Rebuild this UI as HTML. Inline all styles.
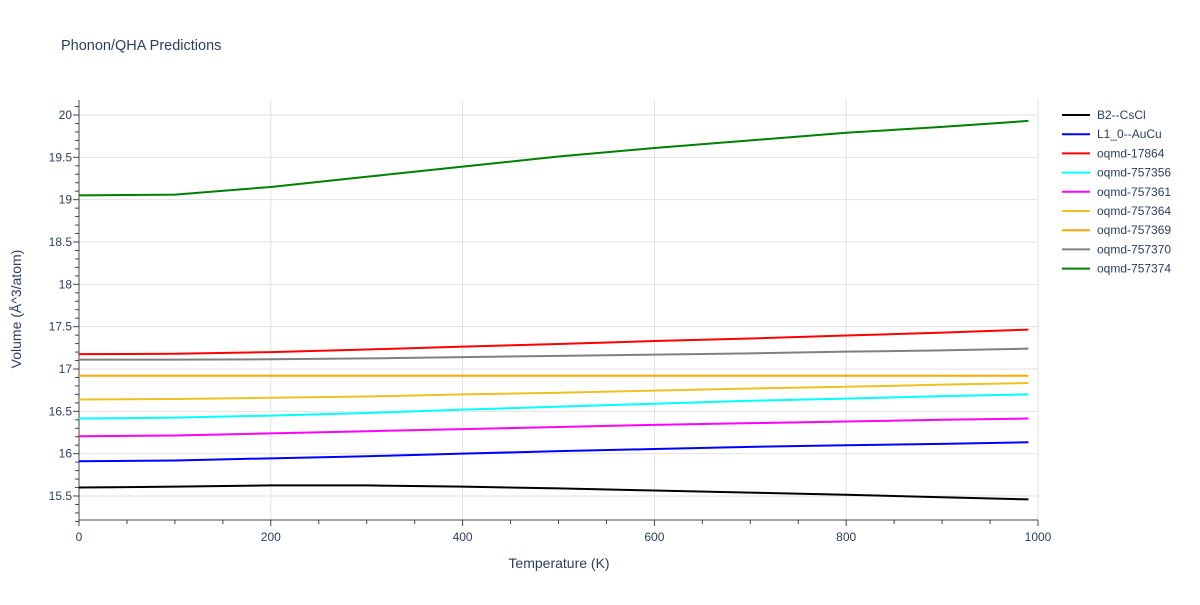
<!DOCTYPE html>
<html><head><meta charset="utf-8"><style>body{margin:0;background:#fff}svg text{font-family:"Liberation Sans",sans-serif;fill:#2a3f5f}</style></head>
<body>
<svg id="c" width="1200" height="600">
<text x="61" y="50" font-size="14.5">Phonon/QHA Predictions</text>
<g id="grid"></g><g id="axes"></g><g id="plot"></g><g id="legend"></g>
<text x="559" y="568" font-size="14" text-anchor="middle">Temperature (K)</text>
<text transform="translate(21,309) rotate(-90)" font-size="14" text-anchor="middle">Volume (Å^3/atom)</text>
</svg>
<script>
const temps=[0,100,200,300,400,500,600,700,800,900,990];
const seriesNames=["B2--CsCl","L1_0--AuCu","oqmd-17864","oqmd-757356","oqmd-757361","oqmd-757364","oqmd-757369","oqmd-757370","oqmd-757374"];
const colors=["#000000","#0000ff","#ff0000","#00ffff","#ff00ff","#f0c020","#ffa500","#808080","#008000"];
const vB2=[15.60,15.61,15.625,15.625,15.61,15.59,15.565,15.54,15.515,15.485,15.46];
const vL10=[15.91,15.92,15.945,15.97,16.0,16.03,16.055,16.08,16.10,16.115,16.135];
const v17864=[17.175,17.18,17.2,17.23,17.265,17.295,17.33,17.36,17.395,17.43,17.465];
const v757356=[16.415,16.425,16.45,16.48,16.52,16.555,16.59,16.625,16.65,16.68,16.70];
const v757361=[16.205,16.215,16.24,16.265,16.29,16.315,16.34,16.36,16.38,16.40,16.415];
const v757364=[16.64,16.645,16.66,16.675,16.70,16.72,16.745,16.77,16.79,16.815,16.835];
const v757369=[16.92,16.92,16.92,16.92,16.92,16.92,16.92,16.92,16.92,16.92,16.92];
const v757370=[17.11,17.11,17.115,17.125,17.14,17.155,17.17,17.185,17.205,17.22,17.24];
const v757374=[19.05,19.06,19.15,19.27,19.39,19.51,19.61,19.70,19.79,19.86,19.93];
const allSeries=[vB2,vL10,v17864,v757356,v757361,v757364,v757369,v757370,v757374];
const xTicks=[0,200,400,600,800,1000];
const yTicks=[15.5,16,16.5,17,17.5,18,18.5,19,19.5,20];
const NS="http://www.w3.org/2000/svg";
const X0=79,X1=1038,Y20=115,Y155=496;
const sx=v=>X0+(X1-X0)*v/1000;
const sy=v=>Y155-(v-15.5)*(Y155-Y20)/4.5;
function mk(p,t,a){const e=document.createElementNS(NS,t);for(const k in a)e.setAttribute(k,a[k]);document.getElementById(p).appendChild(e);return e;}
xTicks.forEach(t=>{const g=mk('grid','line',{x1:sx(t),x2:sx(t),y1:100,y2:520,stroke:'#e2e2e2'});


const l=mk('axes','text',{x:sx(t),y:541,'font-size':12,'text-anchor':'middle'});l.textContent=t;

});
for(let t=0;t<=1000;t+=50){const k=mk('axes','line',{x1:sx(t),x2:sx(t),y1:520,y2:t%200==0?526:524,stroke:'#444'});

}
yTicks.forEach(t=>{const g=mk('grid','line',{x1:X0,x2:X1,y1:sy(t),y2:sy(t),stroke:'#e2e2e2'});


const l=mk('axes','text',{x:72,y:sy(t)+4,'font-size':12,'text-anchor':'end'});l.textContent=t;

});
for(let i=0;i<=49;i++){const v=15.2+i*0.1;if(sy(v)<100)break;const k=mk('axes','line',{x1:X0,x2:X0-(Math.abs((v*2)-Math.round(v*2))<1e-6?6:4),y1:sy(v),y2:sy(v),stroke:'#444'});

}
const ax=mk('axes','path',{d:`M${X0},100V520H${X1}`,fill:'none',stroke:'#444'});


allSeries.forEach((s,i)=>{const p=mk('plot','polyline',{points:s.map((v,j)=>sx(temps[j])+','+sy(v)).join(' '),fill:'none',stroke:colors[i],'stroke-width':2});


const y=115+i*19.2;
const ll=mk('legend','line',{x1:1062,x2:1090,y1:y,y2:y,stroke:colors[i],'stroke-width':2});


const lt=mk('legend','text',{x:1097,y:y+4,'font-size':12});lt.textContent=seriesNames[i];

});
</script>
</body></html>
